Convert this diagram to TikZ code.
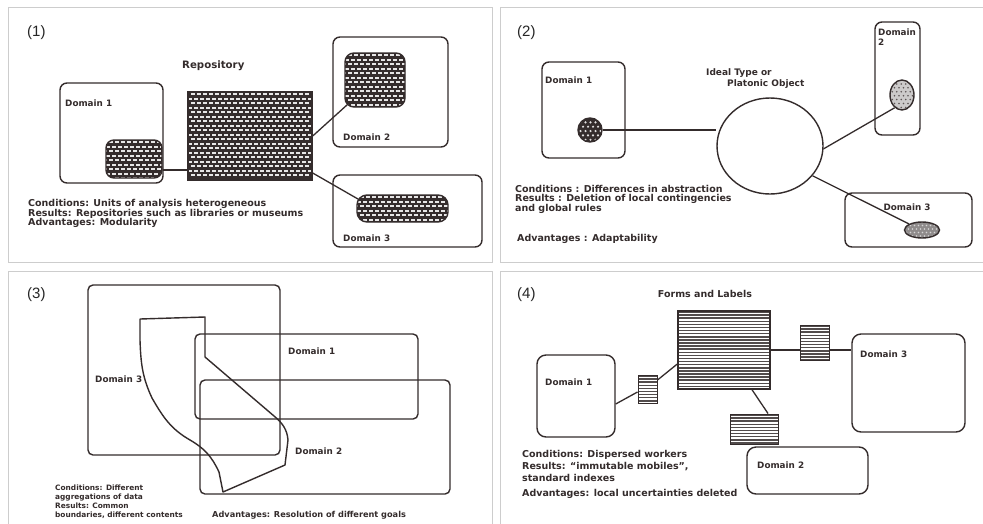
\documentclass[tikz,border=0pt]{standalone}
\usepackage{fontspec}
\setmainfont{Liberation Sans}
\newfontfamily\hand{DejaVu Sans}
\usetikzlibrary{fit,shapes.geometric}
\definecolor{ink}{RGB}{52,44,44}
\definecolor{framegray}{RGB}{205,205,205}
\tikzset{
  dombox/.style={draw=ink, line width=1.4pt, rounded corners=7pt, inner sep=0pt},
  conn/.style={draw=ink, line width=1.3pt},
  txt/.style={font=\hand\bfseries\fontsize{9.5}{11}\selectfont, text=ink, anchor=west, inner sep=0pt},
  lab/.style={font=\hand\bfseries\fontsize{8.8}{10}\selectfont, text=ink, anchor=west, inner sep=0pt},
  smalltxt/.style={txt, font=\hand\bfseries\fontsize{7.4}{8}\selectfont},
  panelno/.style={font=\fontsize{15}{18}\selectfont, text=black!85, anchor=west, inner sep=0pt},
  brickfill/.style={path picture={
    \fill[ink] (path picture bounding box.south west) rectangle (path picture bounding box.north east);
    \foreach \k in {0,...,12}{
      \draw[white!88!ink, line width=1.9pt, dash pattern=on 4.2pt off 1.8pt] (path picture bounding box.north west) ++(-3,{9*\k+2.2}) -- ++(170,0);
      \draw[white!88!ink, line width=1.9pt, dash pattern=on 4.2pt off 1.8pt, dash phase=3pt] (path picture bounding box.north west) ++(-3,{9*\k+6.7}) -- ++(170,0);
    }}},
  dotfill/.style n args={4}{path picture={
    \fill[#1] (path picture bounding box.south west) rectangle (path picture bounding box.north east);
    \foreach \i in {0,...,9} \foreach \j in {0,...,11}
      \fill[#2] (path picture bounding box.north west) ++({\i*#3+mod(\j,2)*#3/2},{\j*#3*0.87}) circle (#4);
    }},
  hatchfill/.style={path picture={
    \fill[white] (path picture bounding box.south west) rectangle (path picture bounding box.north east);
    \foreach \k in {0,...,30}
      \draw[ink!85, line width=1.5pt] (path picture bounding box.north west) ++(-3,{3.1*\k+1}) -- ++(130,0);
    }},
  shapeline/.style={draw=ink, line width=1.4pt},
}
\begin{document}
\begin{tikzpicture}[x=1pt, y=-1pt]
\useasboundingbox (0,0) rectangle (983,523);
\clip (0,0) rectangle (983,523);
\fill[white] (0,0) rectangle (983,523);

% panel frames
\draw[framegray, line width=1pt] (8,7) rectangle (492,262);
\draw[framegray, line width=1pt] (500,7) rectangle (1000,262);
\draw[framegray, line width=1pt] (8,271) rectangle (492,540);
\draw[framegray, line width=1pt] (500,271) rectangle (1000,540);

% ---------------- Panel 1 ----------------
\node[panelno] (n1) at (27,33) {(1)};
\node[txt, font=\hand\bfseries\fontsize{10.2}{12}\selectfont] (p1replab) at (182,66) {Repository};
\node[dombox, fit={(60,83) (163,183)}] (p1d1) {};
\node[lab] (p1d1lab) at (65,103) {Domain 1};
\node[dombox, brickfill, rounded corners=8pt, fit={(106,140) (162,178)}] (p1b1) {};
\node[dombox, brickfill, rounded corners=0pt, fit={(188,92) (312,180)}] (p1repo) {};
\node[dombox, fit={(333,37) (448,147)}] (p1d2) {};
\node[lab] (p1d2lab) at (343,137) {Domain 2};
\node[dombox, brickfill, rounded corners=9pt, fit={(345,53) (405,107)}] (p1b2) {};
\node[dombox, fit={(333,175) (482,247)}] (p1d3) {};
\node[lab] (p1d3lab) at (343,238) {Domain 3};
\node[dombox, brickfill, rounded corners=10pt, fit={(357,195) (448,222)}] (p1b3) {};
\draw[conn] ([yshift=-11pt]p1b1.east) -- ([yshift=-11pt]p1b1.east -| p1repo.west);
\draw[conn] (p1repo.east) -- ([shift={(3pt,3pt)}]p1b2.south west);
\draw[conn] ([yshift=-37pt]p1repo.east) -- ([xshift=4pt]p1b3.170);
\node[txt] (p1c1) at (28,204) {Conditions: Units of analysis heterogeneous};
\node[txt] (p1c2) at (28,213.5) {Results: Repositories such as libraries or museums};
\node[txt] (p1c3) at (28,223) {Advantages: Modularity};

% ---------------- Panel 2 ----------------
\node[panelno] (n2) at (517,33) {(2)};
\node[dombox, fit={(542,62) (625,158)}] (p2d1) {};
\node[lab] (p2d1lab) at (545,80) {Domain 1};
\node[circle, draw=ink, line width=1.4pt, minimum size=24pt, dotfill={ink}{white!85!ink}{5}{1.2pt}] (p2dot) at (590,130) {};
\node[ellipse, draw=ink, line width=1.4pt, minimum width=106pt, minimum height=96pt] (p2big) at (770,146) {};
\node[txt, font=\hand\bfseries\fontsize{9}{10}\selectfont] (p2ideal1) at (706,73) {Ideal Type or};
\node[txt, font=\hand\bfseries\fontsize{9}{10}\selectfont] (p2ideal2) at (727,84) {Platonic Object};
\node[dombox, fit={(875,22) (920,135)}] (p2d2) {};
\node[lab] (p2d2lab) at (878,32) {Domain};
\node[lab] (p2d2lab2) at (878,42) {2};
\node[ellipse, draw=ink, line width=1.4pt, minimum width=24pt, minimum height=30pt, dotfill={white!75!ink}{ink!80}{4.5}{0.9pt}] (p2e2) at (902,95) {};
\node[dombox, fit={(845,193) (972,247)}] (p2d3) {};
\node[lab, anchor=center] (p2d3lab) at (907,207) {Domain 3};
\node[ellipse, draw=ink, line width=1.4pt, minimum width=35pt, minimum height=16pt, dotfill={white!45!ink}{white!80!ink}{4}{0.9pt}] (p2e3) at (922,230) {};
\draw[conn] (p2dot.east) -- (p2dot.east -| p2big.west);
\draw[conn] (p2big.-3) -- (p2e2.240);
\draw[conn] (p2big.-35) -- (p2e3.155);
\node[txt] (p2c1) at (515,189) {Conditions : Differences in abstraction};
\node[txt] (p2c2) at (515,199) {Results : Deletion of local contingencies};
\node[txt] (p2c3) at (515,208.5) {and global rules};
\node[txt] (p2c4) at (517,239) {Advantages : Adaptability};

% ---------------- Panel 3 ----------------
\node[panelno] (n3) at (27,295) {(3)};
\draw[shapeline, rounded corners=5pt] (88,285) rectangle (280,455);
\draw[shapeline, rounded corners=5pt] (195,334) rectangle (418,419);
\draw[shapeline, rounded corners=5pt] (200,380) rectangle (450,494);
\draw[shapeline, line join=round] (140,319) -- (205,317) -- (205,357) -- (274,416)
   to[out=-40,in=95] (288,440) -- (285,465) -- (223,492) -- (219,472)
   to[out=115,in=-30] (190,440) to[out=150,in=-60] (152,398)
   to[out=115,in=-88] (140,340) -- cycle;
\node[lab] (p3d1lab) at (288,351) {Domain 1};
\node[lab] (p3d3lab) at (95,379) {Domain 3};
\node[lab] (p3d2lab) at (295,451) {Domain 2};
\node[smalltxt] (p3c1) at (55,488) {Conditions: Different};
\node[smalltxt] (p3c2) at (55,497) {aggregations of data};
\node[smalltxt] (p3c3) at (55,506) {Results: Common};
\node[smalltxt] (p3c4) at (55,515) {boundaries, different contents};
\node[smalltxt, font=\hand\bfseries\fontsize{8.2}{9}\selectfont] (p3c5) at (212,515) {Advantages: Resolution of different goals};

% ---------------- Panel 4 ----------------
\node[panelno] (n4) at (517,295) {(4)};
\node[txt, anchor=center] (p4title) at (705,294) {Forms and Labels};
\node[dombox, hatchfill, rounded corners=0pt, fit={(678,311) (770,389)}] (p4big) {};
\node[dombox, rounded corners=9pt, fit={(537,355) (615,437)}] (p4d1) {};
\node[lab] (p4d1lab) at (545,382) {Domain 1};
\node[dombox, hatchfill, rounded corners=0pt, line width=1pt, fit={(638,375) (657,403)}] (p4h1) {};
\node[dombox, hatchfill, rounded corners=0pt, line width=1pt, fit={(800,325) (829,360)}] (p4h2) {};
\node[dombox, hatchfill, rounded corners=0pt, line width=1pt, fit={(730,414) (778,444)}] (p4h3) {};
\node[dombox, rounded corners=9pt, fit={(852,334) (965,432)}] (p4d3) {};
\node[lab] (p4d3lab) at (860,354) {Domain 3};
\node[dombox, rounded corners=9pt, fit={(747,447) (868,494)}] (p4d2) {};
\node[lab] (p4d2lab) at (757,465) {Domain 2};
\draw[conn] ([yshift=-8pt]p4d1.east) -- ([yshift=-3pt]p4h1.west);
\draw[conn] ([yshift=9pt]p4h1.east) -- ([yshift=-14pt]p4big.west);
\draw[conn] (p4big.east) -- (p4big.east -| p4h2.west);
\draw[conn] (p4big.east -| p4h2.east) -- (p4big.east -| p4d3.west);
\draw[conn] ([xshift=28pt]p4big.south) -- ([xshift=14pt]p4h3.north);
\node[txt] (p4c1) at (522,455) {Conditions: Dispersed workers};
\node[txt] (p4c2) at (522,466.5) {Results: “immutable mobiles”,};
\node[txt] (p4c3) at (522,478) {standard indexes};
\node[txt] (p4c4) at (522,494) {Advantages: local uncertainties deleted};
\end{tikzpicture}
\end{document}
